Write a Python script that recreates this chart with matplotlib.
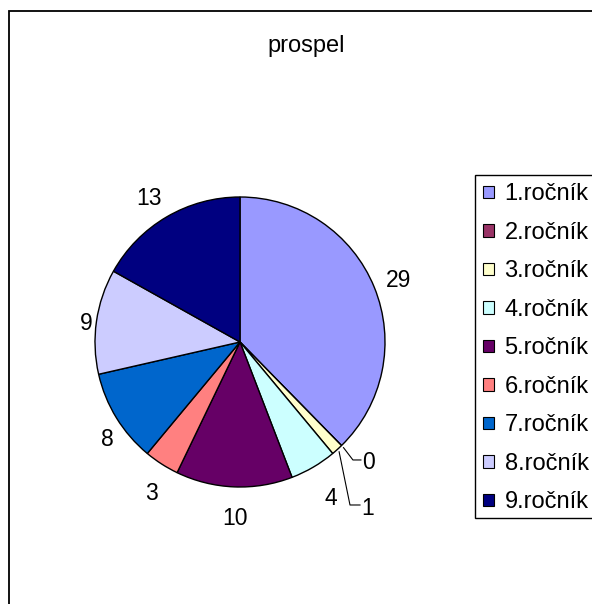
import numpy as np
import matplotlib.pyplot as plt
import matplotlib.transforms as mtransforms
from matplotlib.patches import Rectangle, Patch

plt.rcParams['font.family'] = ['Liberation Sans', 'DejaVu Sans']

categories = ['1.ročník', '2.ročník', '3.ročník', '4.ročník', '5.ročník',
              '6.ročník', '7.ročník', '8.ročník', '9.ročník']
values = [29, 0, 1, 4, 10, 3, 8, 9, 13]
colors = ['#9999FF', '#993366', '#FFFFCC', '#CCFFFF', '#660066',
          '#FF8080', '#0066CC', '#CCCCFF', '#000080']
title = 'prospel'

W, H = 592, 604
fig = plt.figure(figsize=(W / 100, H / 100), dpi=100)

# outer chart frame (runs off right/bottom edge)
fig.patches.append(Rectangle((9 / W, -0.1), 1.2, 1 - 11 / H + 0.1, transform=fig.transFigure,
                             fill=False, edgecolor='black', linewidth=1.3))

fig.text(306 / W, 1 - 52 / H, title, ha='center', va='baseline', fontsize=17)

# pie axes: centre (240, 342), radius 145 px
cx, cy, r = 240, 342, 145
ax = fig.add_axes([(cx - r) / W, 1 - (cy + r) / H, 2 * r / W, 2 * r / H])
lbls = [str(v) if v > 1 else '' for v in values]
wedges, texts = ax.pie(values, colors=colors, startangle=90, counterclock=False,
                       labels=lbls, labeldistance=1.17,
                       wedgeprops=dict(edgecolor='black', linewidth=1.0),
                       textprops=dict(fontsize=16.5))
# excel-like label nudges (px: right, down)
nudge = [(1, 3), (0, 0), (0, 0), (5, 10), (2, 7), (3, 9), (12, 9), (14, 6), (-5, 3)]
for t, (nx, ny) in zip(texts, nudge):
    t.set_horizontalalignment('center')
    t.set_transform(t.get_transform() +
                    mtransforms.ScaledTranslation(nx / 100, -ny / 100, fig.dpi_scale_trans))
ax.set_xlim(-1, 1)
ax.set_ylim(-1, 1)
ax.set_aspect('equal')
ax.axis('off')

# small slices: labels with leader lines
total = sum(values)
cum = np.cumsum([0] + values)
small = [(1, (0.065, -0.085), (0.12, -0.085), (0.13, -0.10)),
         (2, (0.075, -0.367), (0.144, -0.367), (0.15, -0.39))]
for i, (dx1, dy1), (dx2, dy2), (tx, ty) in small:
    mid = 90 - (cum[i] + values[i] / 2) / total * 360
    x0, y0 = np.cos(np.radians(mid)) * 1.02, np.sin(np.radians(mid)) * 1.02
    ax.plot([x0, x0 + dx1, x0 + dx2], [y0, y0 + dy1, y0 + dy2], color='black',
            linewidth=0.8, clip_on=False)
    ax.text(x0 + tx, y0 + ty, str(values[i]), ha='left', va='center', fontsize=16.5)

# legend box runs past the right edge like the original
fig.patches.append(Rectangle((475 / W, 1 - 518 / H), 0.3, 343 / H, transform=fig.transFigure,
                             facecolor='white', edgecolor='black', linewidth=1.0))
handles = [Patch(facecolor=c, edgecolor='black', linewidth=0.8) for c in colors]
leg = fig.legend(handles, categories, loc='upper left',
                 bbox_to_anchor=(475 / W, 1 - 175 / H), fontsize=17,
                 frameon=False,
                 handlelength=0.45, handleheight=0.45, handletextpad=0.45,
                 labelspacing=0.7, borderpad=0.35, borderaxespad=0)

fig.savefig('out.png', dpi=100)
